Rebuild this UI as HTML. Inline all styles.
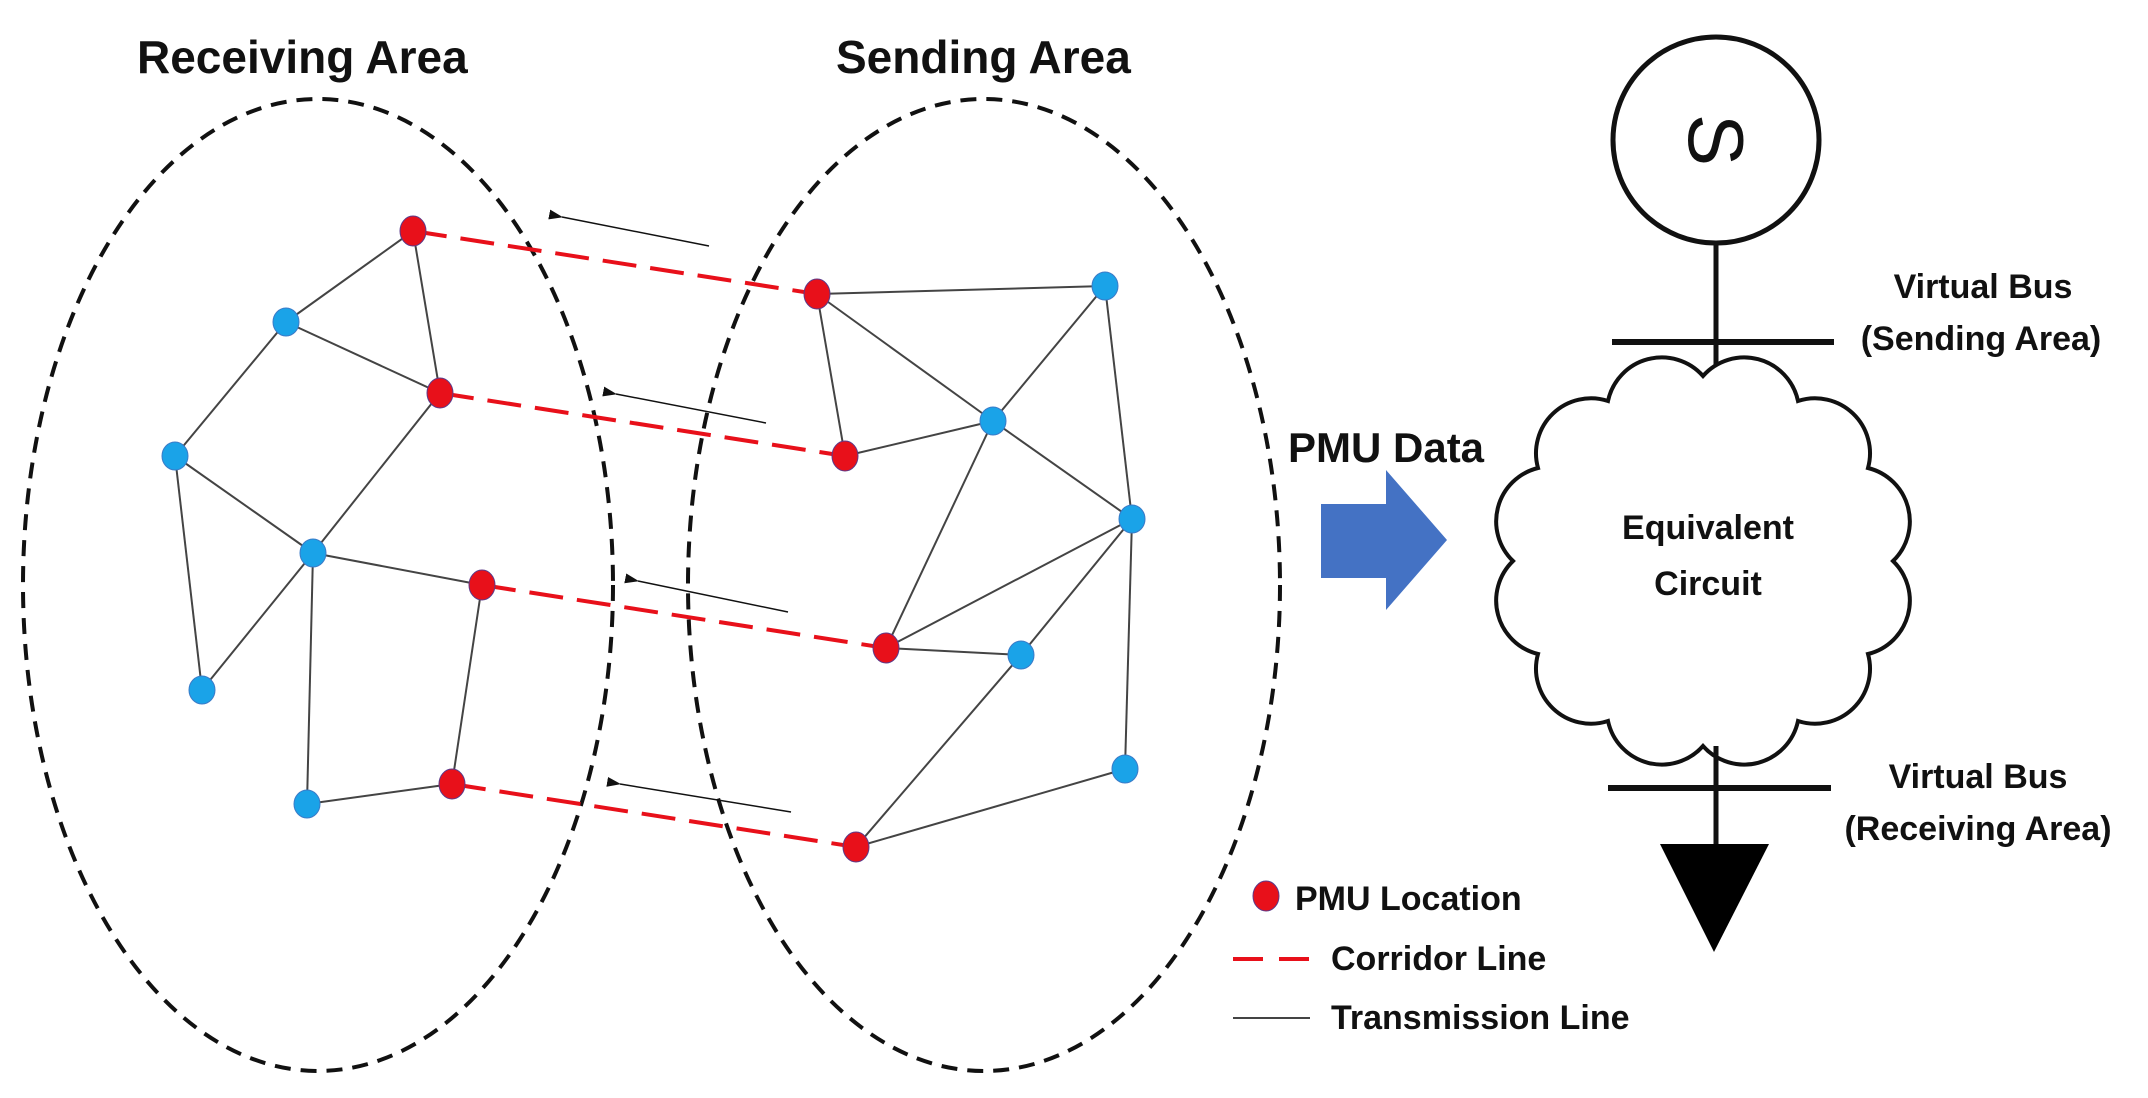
<!DOCTYPE html>
<html><head><meta charset="utf-8"><style>
html,body{margin:0;padding:0;background:#fff;}
svg{display:block;}
text{font-family:"Liberation Sans",sans-serif;fill:#111;}
</style></head><body>
<svg width="2148" height="1098" viewBox="0 0 2148 1098" xmlns="http://www.w3.org/2000/svg">
<defs>
<marker id="ah" markerWidth="14" markerHeight="10" refX="1" refY="5" orient="auto" markerUnits="userSpaceOnUse">
<path d="M14,0 L0,5 L14,10 z" fill="#111"/></marker>
</defs>
<text x="137" y="73" font-size="46" font-weight="bold">Receiving Area</text>
<text x="836" y="73" font-size="46" font-weight="bold">Sending Area</text>
<ellipse cx="318" cy="585" rx="295" ry="486" fill="none" stroke="#111" stroke-width="4" stroke-dasharray="16,10"/>
<ellipse cx="984" cy="585" rx="296" ry="486" fill="none" stroke="#111" stroke-width="4" stroke-dasharray="16,10"/>
<g stroke="#444" stroke-width="2" fill="none">
<line x1="413" y1="231" x2="286" y2="322"/>
<line x1="413" y1="231" x2="440" y2="393"/>
<line x1="286" y1="322" x2="440" y2="393"/>
<line x1="286" y1="322" x2="175" y2="456"/>
<line x1="440" y1="393" x2="313" y2="553"/>
<line x1="175" y1="456" x2="313" y2="553"/>
<line x1="175" y1="456" x2="202" y2="690"/>
<line x1="313" y1="553" x2="202" y2="690"/>
<line x1="313" y1="553" x2="307" y2="804"/>
<line x1="313" y1="553" x2="482" y2="585"/>
<line x1="482" y1="585" x2="452" y2="784"/>
<line x1="307" y1="804" x2="452" y2="784"/>
<line x1="817" y1="294" x2="1105" y2="286"/>
<line x1="817" y1="294" x2="845" y2="456"/>
<line x1="817" y1="294" x2="993" y2="421"/>
<line x1="845" y1="456" x2="993" y2="421"/>
<line x1="993" y1="421" x2="1105" y2="286"/>
<line x1="993" y1="421" x2="886" y2="648"/>
<line x1="993" y1="421" x2="1132" y2="519"/>
<line x1="1105" y1="286" x2="1132" y2="519"/>
<line x1="886" y1="648" x2="1132" y2="519"/>
<line x1="886" y1="648" x2="1021" y2="655"/>
<line x1="1021" y1="655" x2="1132" y2="519"/>
<line x1="1132" y1="519" x2="1125" y2="769"/>
<line x1="1021" y1="655" x2="856" y2="847"/>
<line x1="856" y1="847" x2="1125" y2="769"/>
</g>
<g stroke="#e8101a" stroke-width="4" stroke-dasharray="34,14">
<line x1="413" y1="231" x2="817" y2="294"/>
<line x1="440" y1="393" x2="845" y2="456"/>
<line x1="482" y1="585" x2="886" y2="648"/>
<line x1="452" y1="784" x2="856" y2="847"/>
</g>
<g stroke="#111" stroke-width="1.5">
<line x1="709" y1="246" x2="562" y2="217" marker-end="url(#ah)"/>
<line x1="766" y1="423" x2="616" y2="394" marker-end="url(#ah)"/>
<line x1="788" y1="612" x2="638" y2="581" marker-end="url(#ah)"/>
<line x1="791" y1="812" x2="620" y2="784" marker-end="url(#ah)"/>
</g>
<g fill="#1aa3e8" stroke="#3a7bc8" stroke-width="1">
<ellipse cx="286" cy="322" rx="13" ry="14"/>
<ellipse cx="175" cy="456" rx="13" ry="14"/>
<ellipse cx="313" cy="553" rx="13" ry="14"/>
<ellipse cx="202" cy="690" rx="13" ry="14"/>
<ellipse cx="307" cy="804" rx="13" ry="14"/>
<ellipse cx="993" cy="421" rx="13" ry="14"/>
<ellipse cx="1021" cy="655" rx="13" ry="14"/>
<ellipse cx="1105" cy="286" rx="13" ry="14"/>
<ellipse cx="1132" cy="519" rx="13" ry="14"/>
<ellipse cx="1125" cy="769" rx="13" ry="14"/>
</g>
<g fill="#e8101a" stroke="#5a3a8a" stroke-width="1">
<ellipse cx="413" cy="231" rx="13" ry="15"/>
<ellipse cx="440" cy="393" rx="13" ry="15"/>
<ellipse cx="482" cy="585" rx="13" ry="15"/>
<ellipse cx="452" cy="784" rx="13" ry="15"/>
<ellipse cx="817" cy="294" rx="13" ry="15"/>
<ellipse cx="845" cy="456" rx="13" ry="15"/>
<ellipse cx="886" cy="648" rx="13" ry="15"/>
<ellipse cx="856" cy="847" rx="13" ry="15"/>
<ellipse cx="1266" cy="896" rx="13" ry="15"/>
</g>
<text x="1288" y="462" font-size="42" font-weight="bold">PMU Data</text>
<path d="M1321,504 L1386,504 L1386,470 L1447,540 L1386,610 L1386,578 L1321,578 z" fill="#4472c4"/>
<circle cx="1716" cy="140" r="103" fill="none" stroke="#111" stroke-width="5"/>
<text x="0" y="0" font-size="78" text-anchor="middle" transform="translate(1689,140) rotate(90)">S</text>
<line x1="1716" y1="243" x2="1716" y2="396" stroke="#111" stroke-width="5"/>
<line x1="1612" y1="342" x2="1834" y2="342" stroke="#111" stroke-width="6"/>
<path d="M1893,561 A55,55 0 0 1 1868,654 A55,55 0 0 1 1798,721 A55,55 0 0 1 1703,746 A55,55 0 0 1 1608,721 A55,55 0 0 1 1538,654 A55,55 0 0 1 1513,561 A55,55 0 0 1 1538,468 A55,55 0 0 1 1608,401 A55,55 0 0 1 1703,376 A55,55 0 0 1 1798,401 A55,55 0 0 1 1868,468 A55,55 0 0 1 1893,561 z" fill="#fff" stroke="#111" stroke-width="4"/>
<line x1="1716" y1="746" x2="1716" y2="844" stroke="#111" stroke-width="5"/>
<line x1="1608" y1="788" x2="1831" y2="788" stroke="#111" stroke-width="6"/>
<path d="M1660,844 L1769,844 L1714,952 z" fill="#000"/>
<text x="1708" y="539" font-size="34" font-weight="bold" text-anchor="middle" fill="#222">Equivalent</text>
<text x="1708" y="595" font-size="34" font-weight="bold" text-anchor="middle" fill="#222">Circuit</text>
<text x="1983" y="298" font-size="34" font-weight="bold" text-anchor="middle" fill="#222">Virtual Bus</text>
<text x="1981" y="350" font-size="34" font-weight="bold" text-anchor="middle" fill="#222">(Sending Area)</text>
<text x="1978" y="788" font-size="34" font-weight="bold" text-anchor="middle" fill="#222">Virtual Bus</text>
<text x="1978" y="840" font-size="34" font-weight="bold" text-anchor="middle" fill="#222">(Receiving Area)</text>
<text x="1295" y="910" font-size="34" font-weight="bold" fill="#222">PMU Location</text>
<line x1="1233" y1="959" x2="1310" y2="959" stroke="#e8101a" stroke-width="4" stroke-dasharray="30,16"/>
<text x="1331" y="970" font-size="34" font-weight="bold" fill="#222">Corridor Line</text>
<line x1="1233" y1="1018" x2="1310" y2="1018" stroke="#444" stroke-width="2"/>
<text x="1331" y="1029" font-size="34" font-weight="bold" fill="#222">Transmission Line</text>
</svg>
</body></html>
